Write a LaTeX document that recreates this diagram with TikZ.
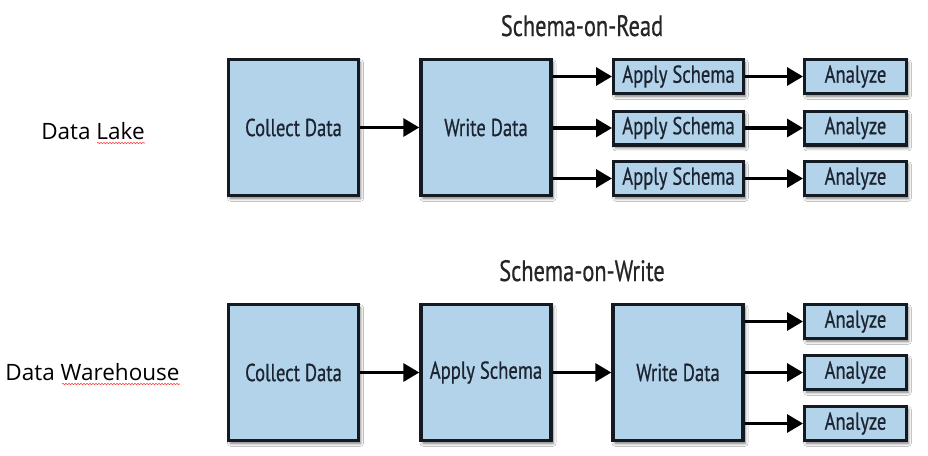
\documentclass[tikz,border=0pt]{standalone}
\usepackage{fontspec}
\setmainfont{Open Sans}
\newfontfamily\boxfont[FakeStretch=0.76,FakeBold=0.6]{PT Sans}
\usetikzlibrary{arrows.meta,shadows.blur,decorations.pathmorphing}
\definecolor{boxfill}{HTML}{B3D3EA}
\definecolor{boxline}{HTML}{141A22}
\definecolor{boxtext}{HTML}{1B2430}
\definecolor{titletext}{HTML}{262626}
\begin{document}
\begin{tikzpicture}[x=1pt,y=-1pt,
  procbox/.style={draw=boxline, line width=3.4pt, fill=boxfill, text=boxtext,
    font=\boxfont\fontsize{24.5}{28}\selectfont, inner sep=0pt,
    blur shadow={shadow xshift=2pt, shadow yshift=-3pt, shadow blur radius=3pt, shadow opacity=55}},
  bigbox/.style={procbox, minimum width=130pt, minimum height=135.6pt},
  smallbox/.style={procbox, minimum width=129.6pt, minimum height=33.6pt},
  anbox/.style={procbox, minimum width=101.6pt, minimum height=33.6pt},
  arr/.style={draw=black, line width=3.2pt, -{Triangle[length=16pt,width=18pt]}},
  titlelbl/.style={text=titletext, font=\boxfont\fontsize{29.5}{33}\selectfont, anchor=base, inner sep=0pt},
  sidelbl/.style={text=black, font=\fontsize{22.5}{26}\selectfont, anchor=base, inner sep=0pt},
  squig/.style={draw=red!75, line width=0.6pt, decorate, decoration={snake, amplitude=0.7pt, segment length=3pt}}
]
\useasboundingbox (0,0) rectangle (928,455);
\fill[white] (0,0) rectangle (928,455);

% titles
\node[titlelbl] (tread) at (582,36) {Schema-on-Read};
\node[titlelbl] (twrite) at (582,281) {Schema-on-Write};

% side labels
\node[sidelbl] (lake) at (93,139) {Data Lake};
\node[sidelbl] (wh) at (92.5,380) {Data Warehouse};
\draw[squig] (97,143) -- (145,143);
\draw[squig] (62,384) -- (180,384);

% top row
\node[bigbox] (c1) at (293.5,127.5) {Collect Data};
\node[bigbox] (w1) at (486,127.5) {Write Data};
\node[smallbox] (a1) at (678.5,76.5) {Apply Schema};
\node[smallbox] (a2) at (678.5,128) {Apply Schema};
\node[smallbox] (a3) at (678.5,178.5) {Apply Schema};
\node[anbox] (z1) at (855.5,76.5) {Analyze};
\node[anbox] (z2) at (855.5,128) {Analyze};
\node[anbox] (z3) at (855.5,178.5) {Analyze};

\draw[arr] (c1) -- (w1);
\draw[arr] (w1.east |- a1) -- (a1.west);
\draw[arr] (w1.east |- a2) -- (a2.west);
\draw[arr] (w1.east |- a3) -- (a3.west);
\draw[arr] (a1) -- (z1);
\draw[arr] (a2) -- (z2);
\draw[arr] (a3) -- (z3);

% bottom row
\node[bigbox] (c2) at (293.5,372.5) {Collect Data};
\node[bigbox] (s2) at (486,372.5) {Apply Schema};
\node[bigbox] (w2) at (678,372.5) {Write Data};
\node[anbox] (y1) at (855.5,321.5) {Analyze};
\node[anbox] (y2) at (855.5,372.5) {Analyze};
\node[anbox] (y3) at (855.5,423.5) {Analyze};

\draw[arr] (c2) -- (s2);
\draw[arr] (s2) -- (w2);
\draw[arr] (w2.east |- y1) -- (y1.west);
\draw[arr] (w2.east |- y2) -- (y2.west);
\draw[arr] (w2.east |- y3) -- (y3.west);
\end{tikzpicture}
\end{document}
